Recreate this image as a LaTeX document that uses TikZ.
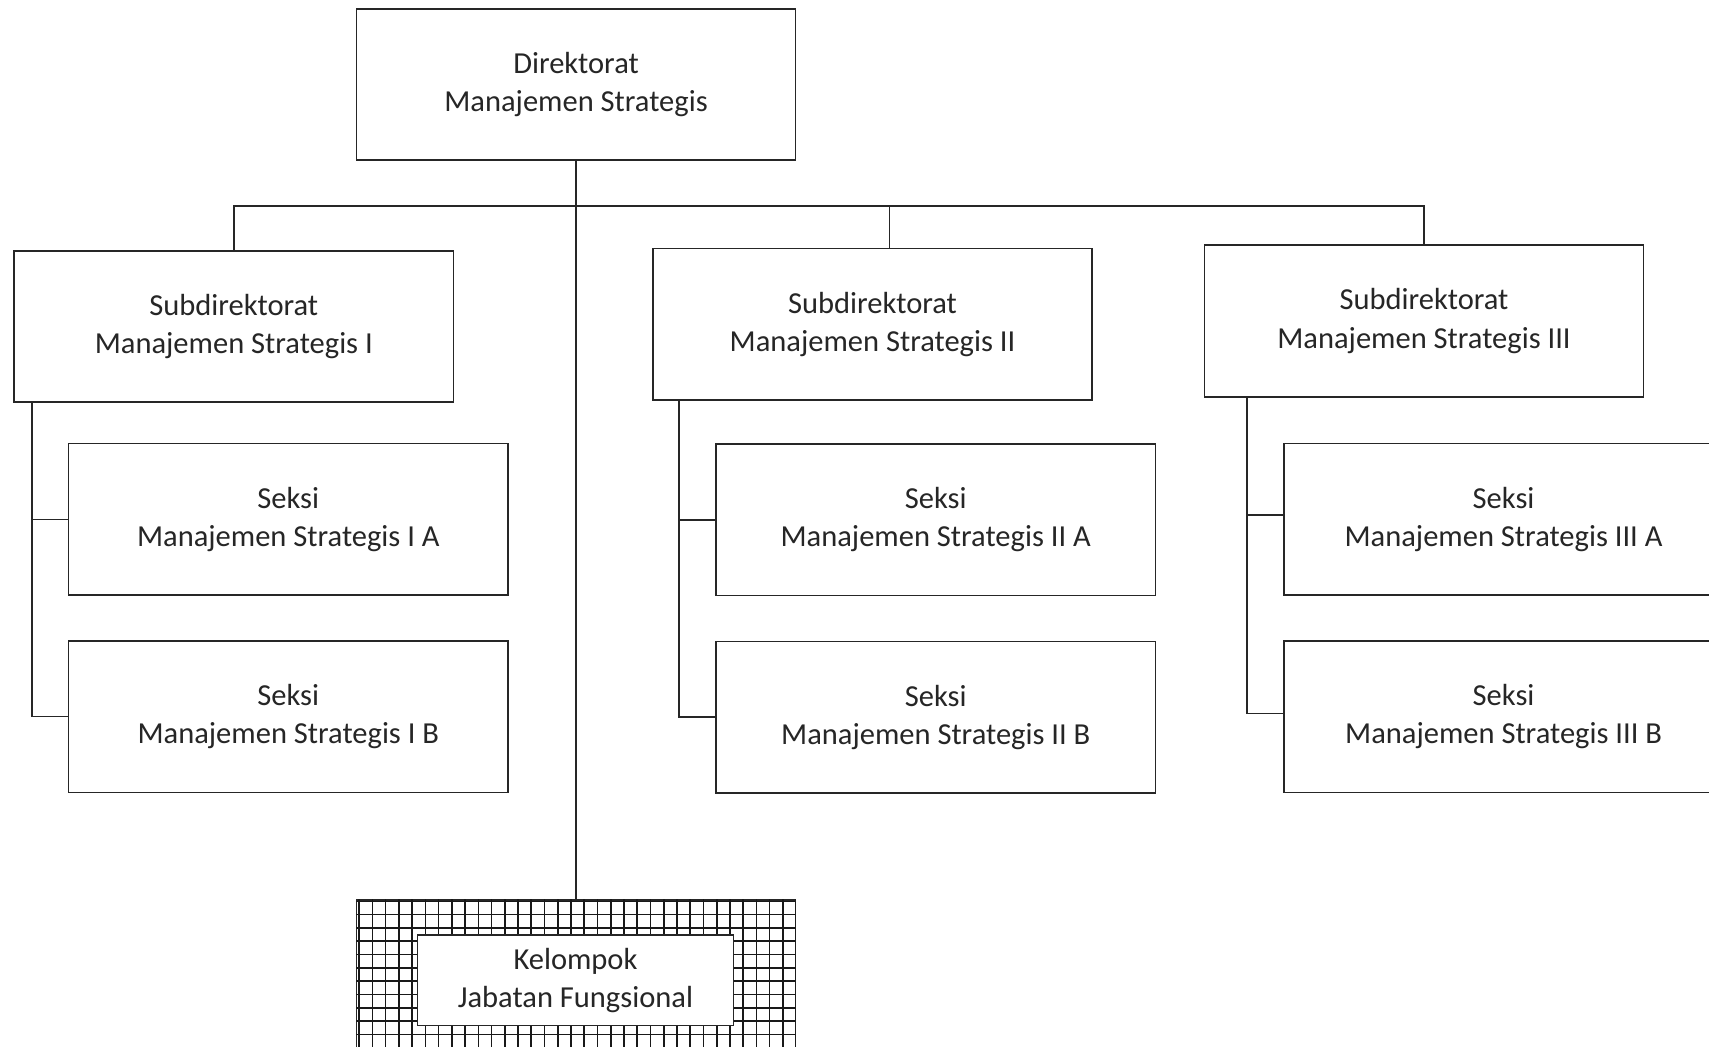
\documentclass[tikz,border=0pt]{standalone}
\usepackage{fontspec}
\setmainfont{Carlito}
\begin{document}
\begin{tikzpicture}[x=1pt,y=-1pt,
  line width=1.5pt,
  box/.style={draw=black!85, fill=white, line width=1.5pt, minimum width=403pt, minimum height=139pt,
    align=center, inner sep=0pt, text=black!85, font=\fontsize{28}{35}\selectfont},
  conn/.style={draw=black!85, line width=1.5pt}]
\useasboundingbox[fill=white] (0,0) rectangle (1568,960);

% top
\node[box] (dir) at (528.5,77.5) {Direktorat\\Manajemen Strategis};

% subdirectorates
\node[box] (s1) at (214.5,299.5) {Subdirektorat\\Manajemen Strategis I};
\node[box] (s2) at (800.5,297.5) {Subdirektorat\\Manajemen Strategis II};
\node[box] (s3) at (1306.5,294.5) {Subdirektorat\\Manajemen Strategis III};

% sections
\node[box] (s1a) at (264.5,476.5) {Seksi\\Manajemen Strategis I A};
\node[box] (s1b) at (264.5,657.5) {Seksi\\Manajemen Strategis I B};
\node[box] (s2a) at (858.5,477) {Seksi\\Manajemen Strategis II A};
\node[box] (s2b) at (858.5,658) {Seksi\\Manajemen Strategis II B};
\node[box] (s3a) at (1379.5,476.5) {Seksi\\Manajemen Strategis III A};
\node[box] (s3b) at (1379.5,657.5) {Seksi\\Manajemen Strategis III B};

% functional group (grid-filled)
\node[draw=black!85, line width=1.5pt, minimum width=403pt, minimum height=180pt, inner sep=0pt, anchor=north] (grp) at (528.5,825) {};
\begin{scope}
  \clip (327,825) rectangle (730,1005);
  \foreach \i in {0,...,33} {
    \draw[black!90, line width=1.5pt] (329.5+12.15*\i,825) -- (329.5+12.15*\i,1005);
  }
  \foreach \j in {0,...,15} {
    \draw[black!90, line width=1.5pt] (327,827+12.2*\j) -- (730,827+12.2*\j);
  }
\end{scope}
\node[box, minimum width=290pt, minimum height=83pt] (kjf) at (528,899.5) {Kelompok\\Jabatan Fungsional};

% connectors
\coordinate (bar) at (0,189);
\draw[conn] (dir.south) -- (grp.north);
\draw[conn] (s1.north) -- (s1.north |- bar) -- (s3.north |- bar) -- (s3.north);
\draw[conn] ([xshift=15.5pt]s2.north) -- ([xshift=15.5pt]s2.north |- bar);

\draw[conn] ([xshift=17pt]s1.south west) |- (s1a.west);
\draw[conn] ([xshift=17pt]s1.south west) |- (s1b.west);
\draw[conn] ([xshift=25pt]s2.south west) |- (s2a.west);
\draw[conn] ([xshift=25pt]s2.south west) |- (s2b.west);
\draw[conn] ([xshift=40pt]s3.south west) |- ([yshift=4pt]s3a.west);
\draw[conn] ([xshift=40pt]s3.south west) |- ([yshift=3pt]s3b.west);
\end{tikzpicture}
\end{document}
